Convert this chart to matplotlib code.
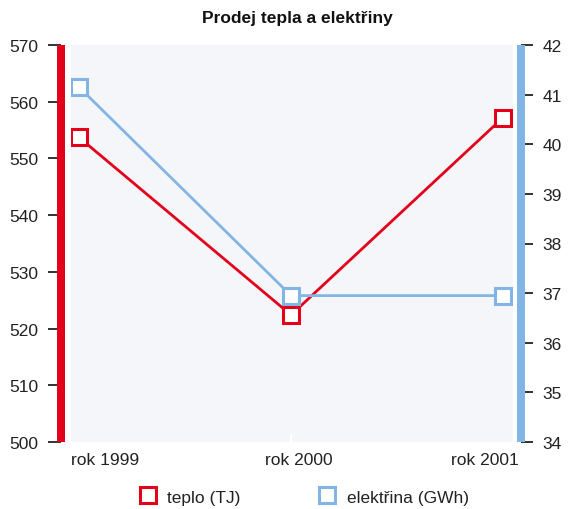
import matplotlib
matplotlib.use("Agg")
import matplotlib.pyplot as plt
from matplotlib.lines import Line2D

plt.rcParams['font.family'] = ['Liberation Sans', 'DejaVu Sans']

categories = ["rok 1999", "rok 2000", "rok 2001"]
teplo = [553.7, 522.4, 557.2]
elektrina = [41.15, 36.95, 36.95]
left_ticks = [500, 510, 520, 530, 540, 550, 560, 570]
right_ticks = [34, 35, 36, 37, 38, 39, 40, 41, 42]

RED = "#e2001a"
BLUE = "#82b5e4"
BG = "#f5f6fa"

W, H = 568, 510
TOP, BOT = 46, 443
fig = plt.figure(figsize=(W / 100, H / 100), dpi=100)
ax = fig.add_axes([71 / W, 1 - BOT / H, 442 / W, (BOT - TOP) / H])
ax.set_facecolor(BG)
ax2 = ax.twinx()

x = list(range(len(categories)))
ax.set_xlim(-0.038, 2.047)
ax.set_ylim(500, 570)
ax2.set_ylim(34, 42)

ax.axvline(1, ymin=0, ymax=7 / (BOT - TOP), color="white", lw=1.5, zorder=0.5)

ax.plot(x, teplo, color=RED, lw=2, marker="s", ms=12, mfc="white", mec=RED, mew=2.2, zorder=3)
ax2.plot(x, elektrina, color=BLUE, lw=2, marker="s", ms=12, mfc="white", mec=BLUE, mew=2.2, zorder=3)

px = 0.72  # points per pixel
for a in (ax, ax2):
    a.spines["top"].set_visible(False)
    a.spines["bottom"].set_visible(False)
ax.spines["right"].set_visible(False)
ax2.spines["left"].set_visible(False)
ax.spines["left"].set_position(("outward", 10 * px))
ax.spines["left"].set_linewidth(8 * px)
ax.spines["left"].set_color(RED)
ax.spines["left"].set_capstyle("butt")
ax2.spines["right"].set_position(("outward", 8 * px))
ax2.spines["right"].set_linewidth(8 * px)
ax2.spines["right"].set_color(BLUE)
ax2.spines["right"].set_capstyle("butt")

ax.set_yticks(left_ticks)
ax2.set_yticks(right_ticks)
ax.tick_params(axis="y", length=13 * px, width=1.3, color="#222222", labelsize=12.5, pad=7, labelcolor="#222222")
ax2.tick_params(axis="y", length=12 * px, width=1.3, color="#222222", labelsize=12.5, pad=7, labelcolor="#222222")

ax.set_xticks(x)
ax.set_xticklabels([])
ax.tick_params(axis="x", length=0)
label_x = [105, 299, 485]
for lx, lab in zip(label_x, categories):
    fig.text(lx / W, 1 - 461 / H, lab, ha="center", va="center", fontsize=12.5, color="#222222")

fig.text(297 / W, 1 - 19 / H, "Prodej tepla a elektřiny", ha="center", va="center",
         fontsize=12.5, fontweight="bold", color="#111111")

handles = [
    Line2D([], [], ls="none", marker="s", ms=12, mfc="white", mec=RED, mew=2.2),
    Line2D([], [], ls="none", marker="s", ms=12, mfc="white", mec=BLUE, mew=2.2),
]
fig.legend(handles, ["teplo (TJ)", "elektřina (GWh)"], loc="center",
           bbox_to_anchor=(304 / W, 1 - 498 / H), ncol=2, frameon=False,
           fontsize=12.5, columnspacing=4.5, handletextpad=0.6, handlelength=1.0,
           labelcolor="#222222")

fig.savefig("out.png", dpi=100)
